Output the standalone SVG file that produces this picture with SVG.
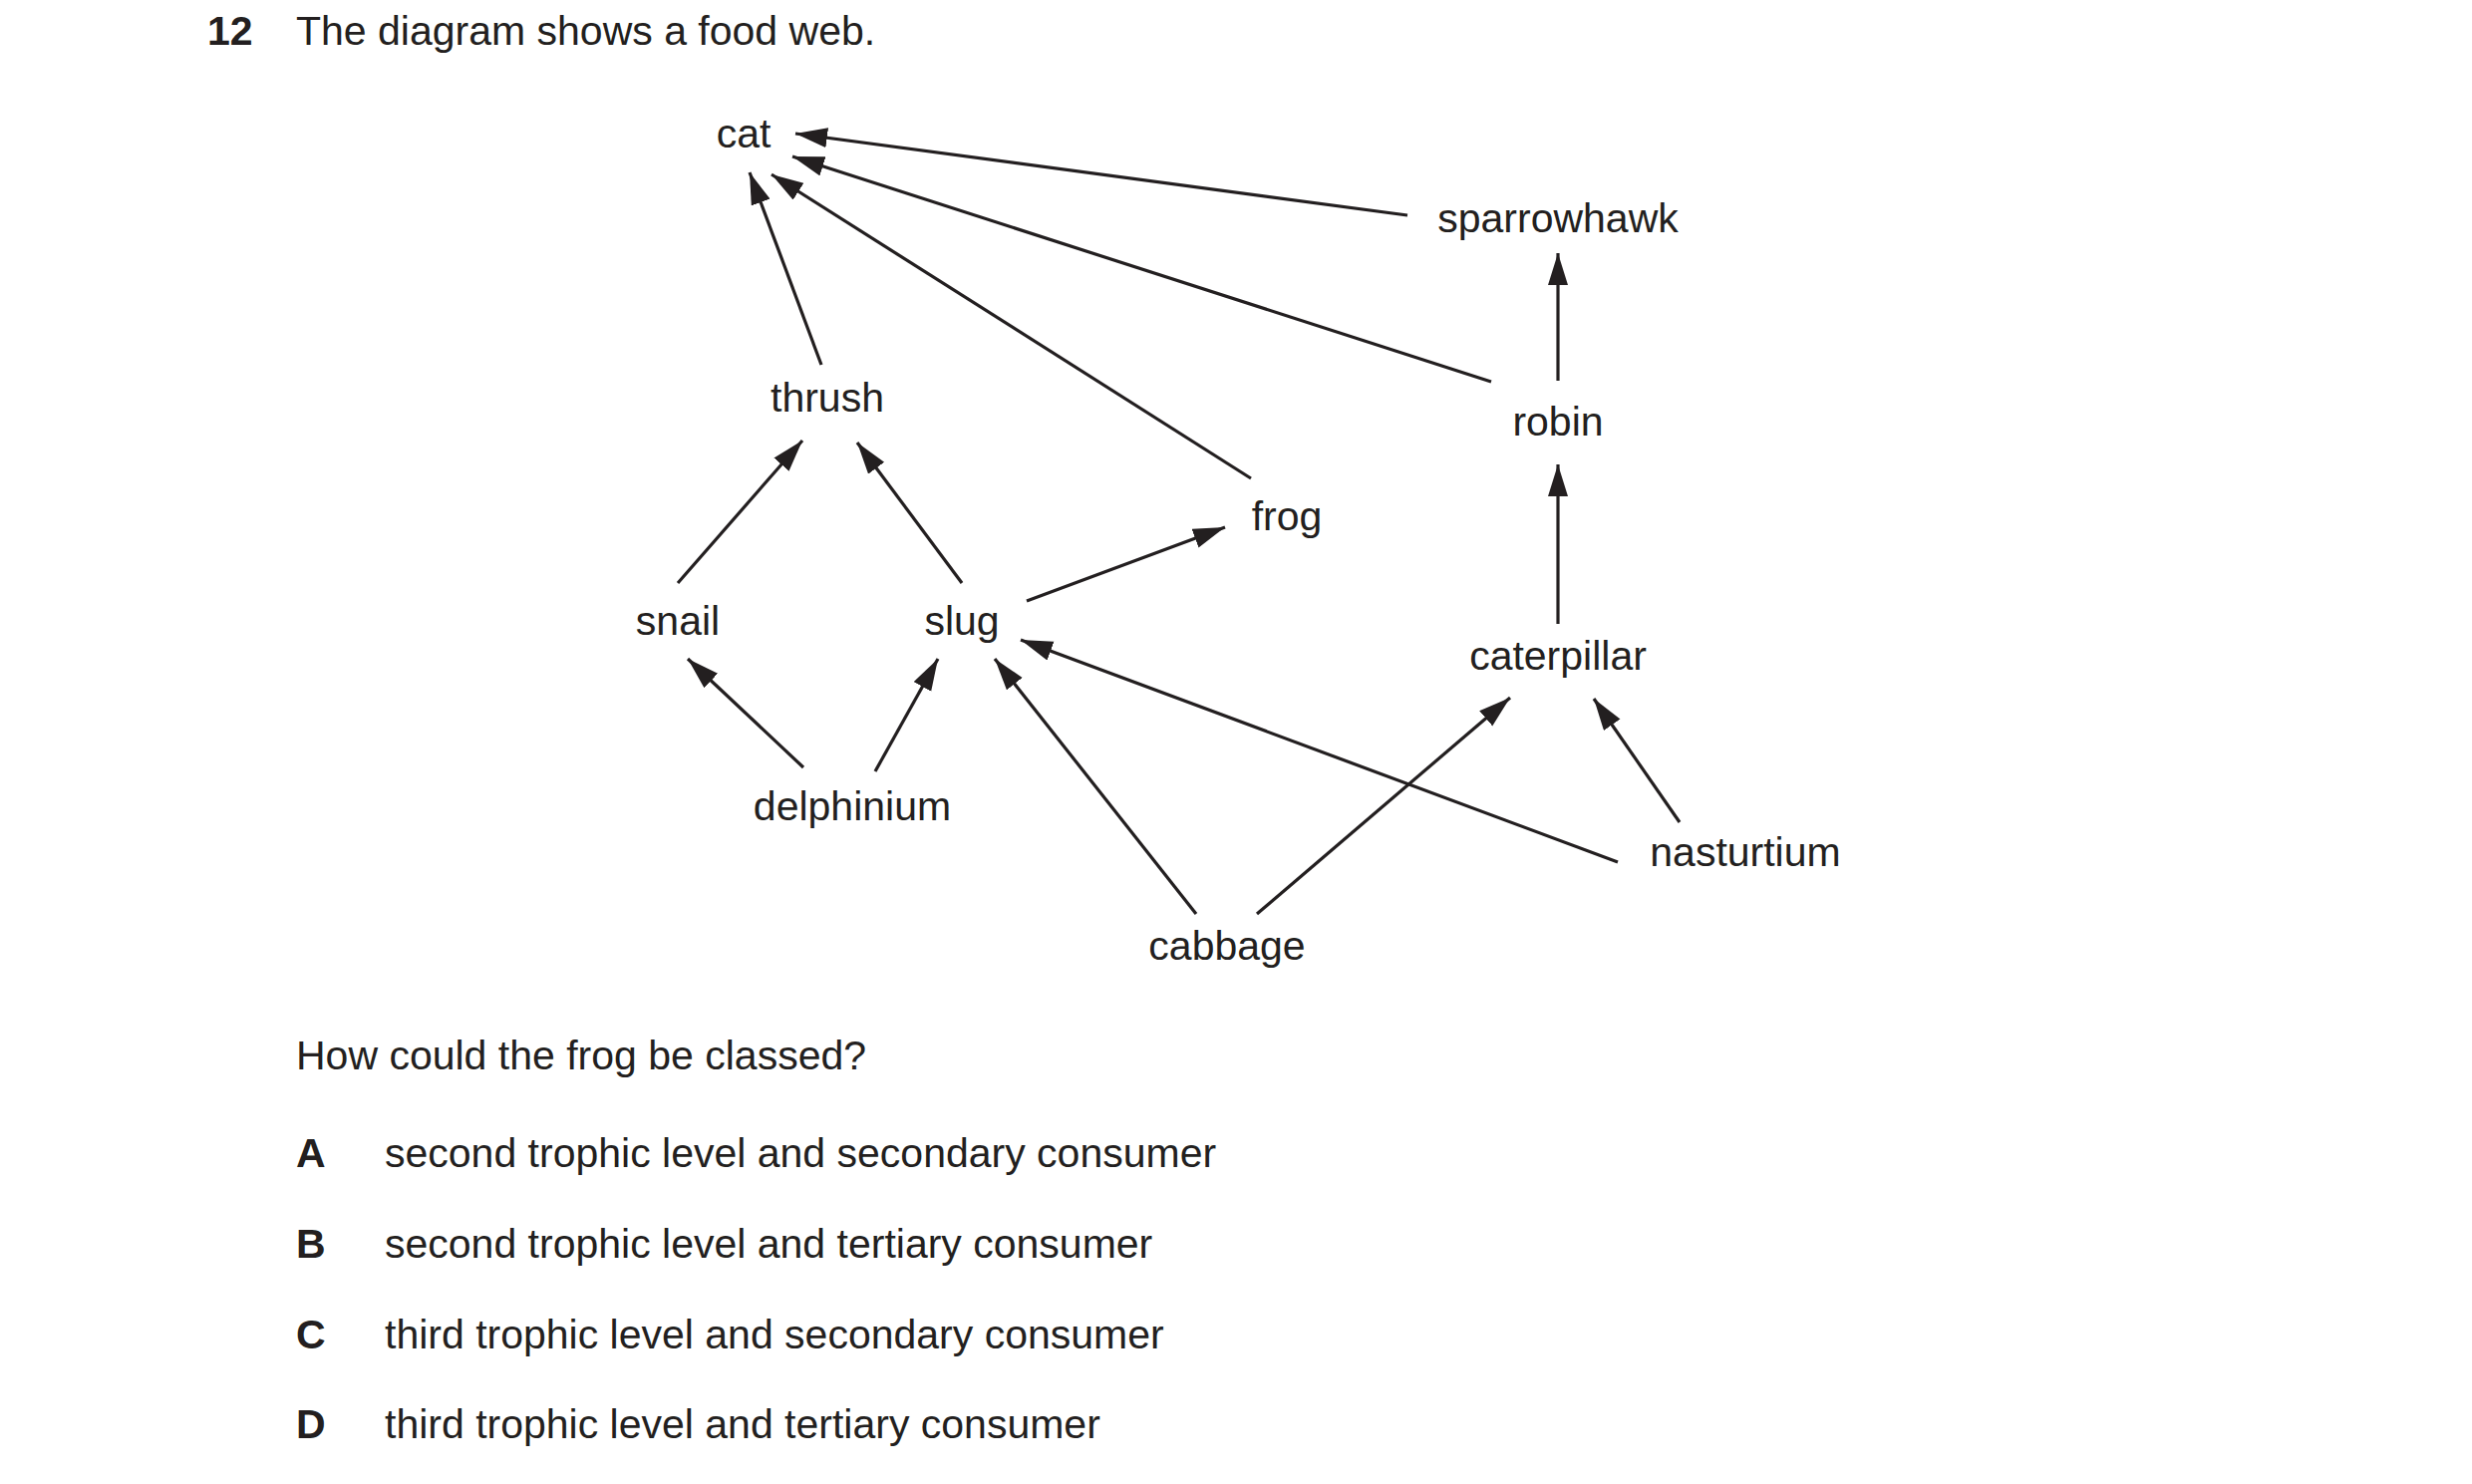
<svg xmlns="http://www.w3.org/2000/svg" width="2480" height="1489" viewBox="0 0 2480 1489">
<style>
text{font-family:"Liberation Sans",Arial,sans-serif;font-size:41px;fill:#231f20}
.n{text-anchor:middle}
.b{font-weight:bold}
line{stroke:#231f20;stroke-width:3.2;marker-end:url(#ah)}
</style>
<defs><marker id="ah" markerUnits="userSpaceOnUse" markerWidth="34" markerHeight="22" refX="32" refY="10" orient="auto"><path d="M0,0 L32,10 L0,20 Z" fill="#231f20"/></marker></defs>
<rect width="2480" height="1489" fill="#fff"/>
<text class="b" x="208" y="45">12</text>
<text x="297" y="45">The diagram shows a food web.</text>
<g id="cat"><text class="n" x="746" y="148">cat</text></g>
<g id="sparrowhawk"><text class="n" x="1563" y="233">sparrowhawk</text></g>
<g id="thrush"><text class="n" x="830" y="413">thrush</text></g>
<g id="robin"><text class="n" x="1563" y="437">robin</text></g>
<g id="frog"><text class="n" x="1291" y="532">frog</text></g>
<g id="snail"><text class="n" x="680" y="637">snail</text></g>
<g id="slug"><text class="n" x="965" y="637">slug</text></g>
<g id="caterpillar"><text class="n" x="1563" y="672">caterpillar</text></g>
<g id="delphinium"><text class="n" x="855" y="823">delphinium</text></g>
<g id="nasturtium"><text class="n" x="1751" y="869">nasturtium</text></g>
<g id="cabbage"><text class="n" x="1231" y="963">cabbage</text></g>
<g id="connectors">
<line x1="1412" y1="216" x2="798" y2="134"/>
<line x1="1496" y1="383" x2="795" y2="157"/>
<line x1="1255" y1="480" x2="774" y2="175"/>
<line x1="824" y1="366" x2="752" y2="173"/>
<line x1="1563" y1="382" x2="1563" y2="254"/>
<line x1="1563" y1="626" x2="1563" y2="466"/>
<line x1="680" y1="585" x2="805" y2="442"/>
<line x1="965" y1="585" x2="860" y2="444"/>
<line x1="1030" y1="603" x2="1229" y2="529"/>
<line x1="806" y1="770" x2="690" y2="661"/>
<line x1="878" y1="774" x2="941" y2="661"/>
<line x1="1200" y1="917" x2="998" y2="661"/>
<line x1="1623" y1="865" x2="1024" y2="642"/>
<line x1="1261" y1="917" x2="1515" y2="700"/>
<line x1="1685" y1="825" x2="1599" y2="701"/>
</g>
<text x="297" y="1073">How could the frog be classed?</text>
<text class="b" x="297" y="1171">A</text><text x="386" y="1171">second trophic level and secondary consumer</text>
<text class="b" x="297" y="1262">B</text><text x="386" y="1262">second trophic level and tertiary consumer</text>
<text class="b" x="297" y="1353">C</text><text x="386" y="1353">third trophic level and secondary consumer</text>
<text class="b" x="297" y="1443">D</text><text x="386" y="1443">third trophic level and tertiary consumer</text>
</svg>
